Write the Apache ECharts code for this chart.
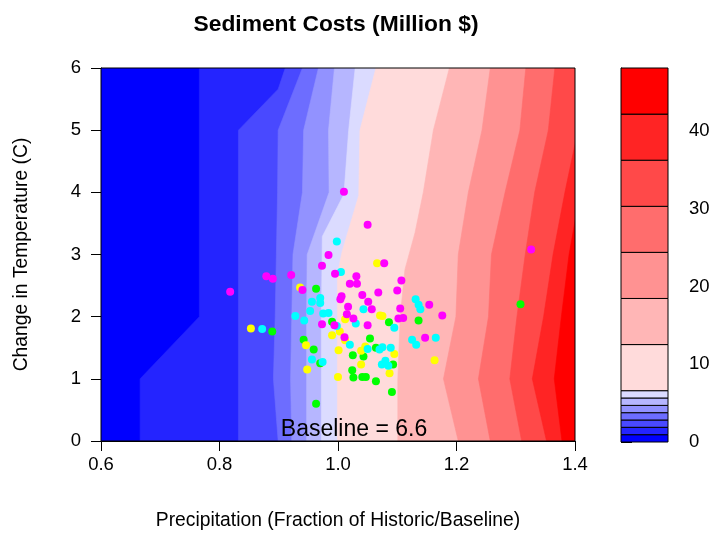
<!DOCTYPE html>
<html><head><meta charset="utf-8">
<script src="https://cdn.jsdelivr.net/npm/echarts@6/dist/echarts.min.js"></script>
<style>html,body{margin:0;padding:0;background:#fff}#c{width:714px;height:535px}</style>
</head><body><div id="c"></div>
<script>
// ---- data ----
const titleText = 'Sediment Costs (Million $)';
const xName = 'Precipitation (Fraction of Historic/Baseline)';
const yName = 'Change in Temperature (C)';
const xTicks = [0.6, 0.8, 1.0, 1.2, 1.4];
const yTicks = [0, 1, 2, 3, 4, 5, 6];
const barTicks = [0, 10, 20, 30, 40];
// contour levels (colour key)
const levels = [0, 0.94, 1.89, 2.83, 3.77, 4.71, 5.66, 6.6, 12.53, 18.46, 24.39, 30.31, 36.24, 42.17, 48.1];
const bandColors = ['#0000FF','#2424FF','#4949FF','#6D6DFF','#9292FF','#B6B6FF','#DBDBFF',
                    '#FFDBDB','#FFB6B6','#FF9292','#FF6D6D','#FF4949','#FF2424','#FF0000'];
// left boundary of each band (precipitation, temperature), bottom to top
const b0  = [[0.6,0],[0.6,6]];
const b1  = [[0.666,0],[0.666,1],[0.766,2],[0.766,6]];
const b2  = [[0.832,0],[0.832,5],[0.899,5.66],[0.911,6]];
const b3  = [[0.899,0],[0.891,1],[0.894,2],[0.896,3],[0.898,4],[0.899,5],[0.940,6]];
const b4  = [[0.922,0],[0.920,1],[0.922,2],[0.924,3],[0.940,4],[0.942,5],[0.967,6]];
const b5  = [[0.947,0],[0.947,1],[0.947,2],[0.948,3],[0.985,4],[0.984,5],[0.994,6]];
const b6  = [[0.972,0],[0.972,1],[0.972,2],[0.9735,3.29],[1.010,3.97],[1.018,5],[1.029,6]];
const b7  = [[0.999,0],[0.999,1],[0.999,2],[0.999,2.68],[1.007,3.05],[1.035,3.95],[1.037,5],[1.064,6]];
const b8  = [[1.101,0],[1.101,1],[1.105,2],[1.113,2.76],[1.130,3.35],[1.144,4],[1.161,5],[1.188,6]];
const b9  = [[1.203,0],[1.178,1],[1.199,2],[1.203,3],[1.220,4],[1.243,5],[1.257,6]];
const b10 = [[1.257,0],[1.237,1],[1.254,2],[1.259,3],[1.282,4],[1.307,5],[1.317,6]];
const b11 = [[1.310,0],[1.290,1],[1.302,2],[1.316,3],[1.332,4],[1.355,5],[1.366,6]];
const b12 = [[1.352,0],[1.328,1],[1.347,2],[1.363,3],[1.383,4],[1.405,5],[1.425,6]];
const b13 = [[1.378,0],[1.365,1],[1.377,2],[1.390,3],[1.402,3.64],[1.440,5],[1.460,6]];
const boundaries = [b0,b1,b2,b3,b4,b5,b6,b7,b8,b9,b10,b11,b12,b13];

const magentaPts = [[1.010,4.01],[1.050,3.48],[0.984,2.99],[0.973,2.82],[0.921,2.67],[0.995,2.69],[1.078,2.86],
  [1.031,2.65],[1.020,2.53],[1.032,2.53],[1.107,2.58],[0.940,2.43],[1.068,2.39],[1.100,2.42],[1.041,2.35],
  [1.006,2.33],[1.004,2.28],[1.051,2.24],[1.017,2.16],[1.057,2.12],[1.105,2.13],[1.154,2.19],[1.176,2.02],
  [1.015,2.04],[1.026,1.97],[1.102,1.97],[1.110,1.98],[0.973,1.88],[0.994,1.86],[1.050,1.86],[1.011,1.67],
  [1.147,1.66],[0.818,2.40],[0.879,2.65],[0.890,2.61],[1.326,3.08]];
const cyanPts = [[0.998,3.21],[1.005,2.72],[0.970,2.30],[0.956,2.24],[0.970,2.22],[0.953,2.09],[0.928,2.01],
  [0.943,1.94],[0.975,2.05],[0.984,2.06],[1.043,2.12],[1.030,1.89],[1.131,2.28],[1.136,2.19],[1.139,2.12],
  [1.095,1.82],[0.998,1.85],[1.125,1.63],[1.132,1.55],[1.165,1.66],[1.020,1.55],[1.050,1.48],[1.070,1.47],
  [1.075,1.51],[1.089,1.50],[0.956,1.31],[0.974,1.27],[1.074,1.23],[1.080,1.29],[1.085,1.21],[0.872,1.80]];
const yellowPts = [[1.066,2.86],[0.936,2.47],[1.012,1.96],[1.071,2.02],[1.075,2.01],[0.990,1.70],[1.003,1.76],
  [1.012,1.62],[0.946,1.54],[1.001,1.46],[1.039,1.45],[1.046,1.52],[1.095,1.40],[1.163,1.30],[1.039,1.23],
  [0.948,1.15],[1.000,1.03],[1.087,1.09],[0.853,1.81]];
const greenPts = [[0.963,2.45],[1.086,1.91],[1.136,1.94],[0.990,1.92],[0.942,1.63],[0.959,1.47],[1.054,1.65],
  [1.025,1.38],[1.043,1.36],[1.064,1.50],[0.970,1.25],[1.093,1.23],[1.024,1.14],[1.026,1.02],[1.041,1.03],
  [1.047,1.03],[1.064,0.96],[1.091,0.79],[0.963,0.60],[0.889,1.76],[1.308,2.20]];
const baselineText = 'Baseline = 6.6';
const baselinePos = [1.027, 0.19];

// ---- chart ----
const FONT = 'Liberation Sans, Arial, sans-serif';
const chart = echarts.init(document.getElementById('c'), null, {renderer: 'canvas'});
const axisCommon = {
  axisLine: {show: true, lineStyle: {color: '#000', width: 1}},
  axisTick: {show: true, inside: false, length: 10, lineStyle: {color: '#000', width: 1}},
  splitLine: {show: false},
  axisLabel: {color: '#000', fontSize: 18.5, fontFamily: FONT},
  nameTextStyle: {color: '#000', fontSize: 19.3, fontFamily: FONT}
};
const scatterSeries = (data, color) => ({
  type: 'scatter', xAxisIndex: 0, yAxisIndex: 0, data: data, symbol: 'circle', symbolSize: 8,
  itemStyle: {color: color, opacity: 1}, z: 5, silent: true
});
chart.setOption({
  animation: false,
  backgroundColor: '#fff',
  grid: [
    {left: 101, top: 68, width: 474, height: 374},
    {left: 621, top: 68, width: 47, height: 374}
  ],
  graphic: [{
    type: 'text', x: 336, y: 25,
    style: {text: titleText, font: 'bold 22.8px ' + FONT, fill: '#000', textAlign: 'center', textVerticalAlign: 'middle'}
  }],
  xAxis: [
    Object.assign({}, axisCommon, {
      gridIndex: 0, type: 'value', min: 0.6, max: 1.4, interval: 0.2,
      name: xName, nameLocation: 'middle', nameGap: 70,
      axisLabel: Object.assign({}, axisCommon.axisLabel, {margin: 14, customValues: xTicks, formatter: v => v.toFixed(1)}),
      axisTick: Object.assign({}, axisCommon.axisTick, {customValues: xTicks})
    }),
    {gridIndex: 1, type: 'value', min: 0, max: 1, show: false}
  ],
  yAxis: [
    Object.assign({}, axisCommon, {
      gridIndex: 0, type: 'value', min: 0, max: 6, interval: 1,
      name: yName, nameLocation: 'middle', nameGap: 70, nameRotate: 90,
      axisLabel: Object.assign({}, axisCommon.axisLabel, {margin: 20, customValues: yTicks}),
      axisTick: Object.assign({}, axisCommon.axisTick, {customValues: yTicks})
    }),
    Object.assign({}, axisCommon, {
      gridIndex: 1, type: 'value', position: 'right', min: 0, max: 48.1,
      axisLabel: Object.assign({}, axisCommon.axisLabel, {margin: 21, customValues: barTicks}),
      axisTick: Object.assign({}, axisCommon.axisTick, {length: 11, customValues: barTicks})
    })
  ],
  series: [
    {
      type: 'custom', xAxisIndex: 0, yAxisIndex: 0, clip: true, silent: true, z: 1,
      data: boundaries.map((b, i) => [i]),
      renderItem: function (params, api) {
        const k = params.dataIndex;
        const pts = boundaries[k].map(p => api.coord(p));
        pts.push(api.coord([1.6, 6]), api.coord([1.6, 0]));
        return {type: 'polygon', shape: {points: pts},
          style: {fill: bandColors[k], stroke: bandColors[k], lineWidth: 0.6}};
      }
    },
    {
      type: 'custom', xAxisIndex: 1, yAxisIndex: 1, silent: true, z: 1,
      data: levels.slice(0, -1).map((v, i) => [i]),
      renderItem: function (params, api) {
        const k = params.dataIndex;
        const p0 = api.coord([0, levels[k + 1]]);
        const p1 = api.coord([1, levels[k]]);
        return {type: 'rect', shape: {x: p0[0], y: p0[1], width: p1[0] - p0[0], height: p1[1] - p0[1]},
          style: {fill: bandColors[k], stroke: '#000', lineWidth: 1}};
      }
    },
    scatterSeries(greenPts, '#00FF00'),
    scatterSeries(yellowPts, '#FFFF00'),
    scatterSeries(cyanPts, '#00FFFF'),
    scatterSeries(magentaPts, '#FF00FF'),
    {
      type: 'custom', xAxisIndex: 0, yAxisIndex: 0, silent: true, z: 6,
      data: [[0]],
      renderItem: function (params, api) {
        const p = api.coord(baselinePos);
        const a = api.coord([0.6, 6]);
        const b = api.coord([1.4, 0]);
        return {type: 'group', children: [
          {type: 'text', x: p[0], y: p[1], style: {text: baselineText, font: '23px ' + FONT, fill: '#000',
            textAlign: 'center', textVerticalAlign: 'middle'}},
          {type: 'rect', shape: {x: a[0], y: a[1], width: b[0] - a[0], height: b[1] - a[1]},
            style: {fill: 'none', stroke: '#000', lineWidth: 1}}
        ]};
      }
    }
  ]
});
</script>
</body></html>
